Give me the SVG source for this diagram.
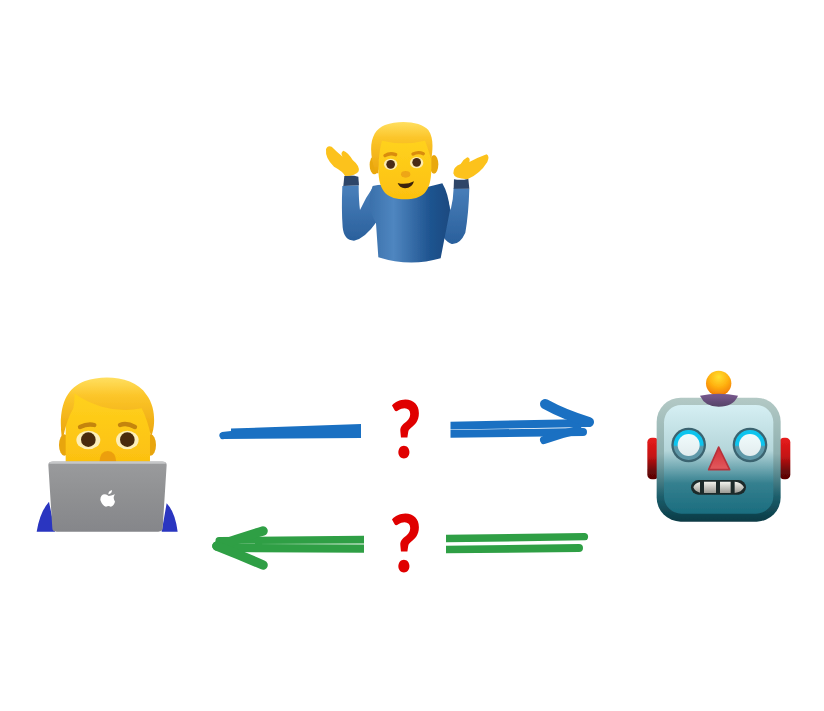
<svg xmlns="http://www.w3.org/2000/svg" width="824" height="711" viewBox="0 0 824 711">
<style>
.q{font-family:"Lato","Open Sans","Liberation Sans",sans-serif;font-weight:900;font-size:80px;fill:#e00000;text-anchor:middle}
.b{fill:#1a70c2}.g{fill:#2f9f45}
.bs{stroke:#1a70c2;fill:none;stroke-linecap:round}.gs{stroke:#2f9f45;fill:none;stroke-linecap:round}
.skin{fill:#fcc21b}.hair{fill:url(#hair)}
</style>
<defs>
<filter id="soft" x="-5%" y="-5%" width="110%" height="110%"><feGaussianBlur stdDeviation="1.5"/></filter>
<linearGradient id="hair" x1="0" y1="0" x2="0" y2="1"><stop offset="0" stop-color="#ffdf60"/><stop offset=".3" stop-color="#fcc62a"/><stop offset="1" stop-color="#eba50c"/></linearGradient>
<linearGradient id="face" x1="0" y1="0" x2="0" y2="1"><stop offset="0" stop-color="#ffd21e"/><stop offset="1" stop-color="#fcc010"/></linearGradient>
<linearGradient id="sweater" x1="0" y1="0" x2="1" y2="0"><stop offset="0" stop-color="#3a70ab"/><stop offset=".3" stop-color="#4f86c0"/><stop offset=".75" stop-color="#1f5490"/><stop offset="1" stop-color="#1a4a80"/></linearGradient>
<linearGradient id="arm" x1="0" y1="0" x2="0" y2="1"><stop offset="0" stop-color="#4a80bb"/><stop offset="1" stop-color="#2a609c"/></linearGradient>
<linearGradient id="lap" x1="0" y1="0" x2="0" y2="1"><stop offset="0" stop-color="#9a9b9d"/><stop offset=".5" stop-color="#8f9092"/><stop offset="1" stop-color="#85868a"/></linearGradient>
<linearGradient id="rOuter" x1="0" y1="0" x2="0" y2="1"><stop offset="0" stop-color="#b3c9c5"/><stop offset=".45" stop-color="#8fb0b0"/><stop offset=".8" stop-color="#1c5e6b"/><stop offset="1" stop-color="#0a3a45"/></linearGradient>
<linearGradient id="rInner" x1="0" y1="0" x2="0" y2="1"><stop offset="0" stop-color="#d5eff3"/><stop offset=".42" stop-color="#b5d6da"/><stop offset=".72" stop-color="#35808f"/><stop offset="1" stop-color="#1b6d7f"/></linearGradient>
<linearGradient id="ear" x1="0" y1="0" x2="0" y2="1"><stop offset="0" stop-color="#e81c1c"/><stop offset=".45" stop-color="#c41414"/><stop offset=".8" stop-color="#6a0808"/><stop offset="1" stop-color="#5a0505"/></linearGradient>
<radialGradient id="orb" cx=".5" cy=".25" r=".8"><stop offset="0" stop-color="#ffe030"/><stop offset=".5" stop-color="#ffb010"/><stop offset="1" stop-color="#f07000"/></radialGradient>
<linearGradient id="cap" x1="0" y1="0" x2="0" y2="1"><stop offset="0" stop-color="#7a5a90"/><stop offset="1" stop-color="#564468"/></linearGradient>
<linearGradient id="eyeRing" x1="0" y1="0" x2="0" y2="1"><stop offset="0" stop-color="#11c4ee"/><stop offset=".5" stop-color="#11c4ee"/><stop offset=".56" stop-color="#5f98a8"/><stop offset="1" stop-color="#5f98a8"/></linearGradient>
<linearGradient id="eyeIn" x1="0" y1="0" x2="0" y2="1"><stop offset="0" stop-color="#f0fbfc"/><stop offset="1" stop-color="#e2ecee"/></linearGradient>
<linearGradient id="tooth" x1="0" y1="0" x2="0" y2="1"><stop offset="0" stop-color="#f4f4ee"/><stop offset="1" stop-color="#9a9a94"/></linearGradient>
<linearGradient id="nose" x1="0" y1="0" x2="0" y2="1"><stop offset="0" stop-color="#d22f36"/><stop offset="1" stop-color="#e25a5e"/></linearGradient>
</defs>

<g id="shrug-man" transform="translate(310 110) scale(.3333)" filter="url(#soft)">
<path fill="url(#arm)" d="M97 228Q94 300 98 352Q102 392 132 392Q165 385 200 335L215 260L190 230Q165 265 150 300Q146 270 146 226Z"/>
<path fill="url(#arm)" d="M478 236Q476 310 466 368Q450 404 425 402Q400 395 380 340L375 270L395 222Q412 260 422 300Q430 270 431 234Z"/>
<path fill="url(#sweater)" d="M188 228Q240 215 290 245Q340 235 397 220Q415 250 420 300L392 445Q300 472 205 442L198 340Q165 280 188 228Z"/>
<path fill="#2d4468" d="M103 198Q125 194 145 200L147 226L100 228Z"/>
<path fill="#2d4468" d="M432 208Q455 212 475 206L478 236L431 236Z"/>
<path class="skin" d="M105 198Q100 185 72 170Q45 145 48 118Q52 105 65 110Q80 125 98 140Q90 128 100 122Q115 128 128 150Q150 168 146 184Q138 198 105 198Z"/>
<path class="skin" d="M472 208Q432 206 430 190Q430 170 452 162Q460 148 472 142Q482 144 478 156Q505 142 530 133Q540 140 532 156Q510 192 472 208Z"/>
<ellipse cx="193" cy="165" rx="14" ry="28" fill="#e9a80f"/><ellipse cx="372" cy="163" rx="13" ry="28" fill="#e9a80f"/>
<path fill="url(#face)" d="M205 90H364V175C364 250 335 268 285 268C235 268 205 250 205 175Z"/>
<path class="hair" d="M197 190C170 110 185 60 225 45C270 28 335 35 355 60C372 85 368 115 364 150Q354 115 345 92Q280 108 216 92Q205 130 205 190Z"/>
<path stroke="#d98c10" stroke-width="10" stroke-linecap="round" fill="none" d="M225 137Q240 127 257 134M309 132Q325 124 340 131"/>
<ellipse cx="242" cy="163" rx="20" ry="17" fill="#fdebb0"/><ellipse cx="320" cy="158" rx="20" ry="17" fill="#fdebb0"/>
<circle cx="242" cy="163" r="13" fill="#4a2c12"/><circle cx="320" cy="157" r="13" fill="#4a2c12"/>
<ellipse cx="287" cy="193" rx="14" ry="10" fill="#eea612"/>
<path fill="#3a2408" d="M263 219Q288 226 312 214Q307 234 285 235Q268 233 263 219Z"/>
</g>

<g id="laptop-man" transform="translate(25 365) scale(.3333)" filter="url(#soft)">
<path fill="#2a35c0" d="M35 500Q45 440 72 410L90 500ZM425 415Q450 440 458 500L410 500Z"/>
<ellipse cx="118" cy="240" rx="16" ry="32" fill="#e8a50e"/><ellipse cx="377" cy="240" rx="16" ry="32" fill="#e8a50e"/>
<path fill="url(#face)" d="M150 75H350L375 130V295H122V130Z"/>
<path class="hair" d="M110 215C100 130 120 70 180 48C240 28 330 35 365 90C395 130 390 190 378 215Q368 165 350 130Q290 142 230 125Q180 110 148 85Q150 105 145 130Q125 165 115 215Z"/>
<path stroke="#c4850e" stroke-width="13" stroke-linecap="round" fill="none" d="M165 186Q188 175 208 180M285 180Q305 172 330 186"/>
<ellipse cx="190" cy="225" rx="36" ry="28" fill="#fdeeb8"/><ellipse cx="307" cy="225" rx="34" ry="28" fill="#fdeeb8"/>
<circle cx="190" cy="224" r="22" fill="#4a2c0e"/><circle cx="307" cy="224" r="22" fill="#4a2c0e"/>
<path fill="#ec9f10" d="M223 292Q225 258 248 258Q272 258 274 292Z"/>
<path fill="url(#lap)" d="M70 300Q70 290 82 290H413Q425 290 425 300L413 490Q413 500 400 500H95Q82 500 82 490Z"/>
<path fill="#c6c7c9" d="M72 296Q75 289 84 289H411Q420 289 423 296Z"/>
<path fill="#fff" d="M251 393Q257 393 270 388Q262 398 270 410Q266 424 257 425Q251 421 243 425Q232 422 226 405Q226 388 240 388Q246 389 251 393ZM250 388Q250 378 261 375Q261 386 250 388Z"/>
</g>

<g id="robot" transform="translate(640 365) scale(.3333)" filter="url(#soft)">
<rect x="22" y="218" width="34" height="125" rx="14" fill="url(#ear)"/>
<rect x="418" y="218" width="33" height="125" rx="14" fill="url(#ear)"/>
<rect x="50" y="98" width="372" height="372" rx="72" fill="url(#rOuter)"/>
<rect x="72" y="120" width="328" height="326" rx="52" fill="url(#rInner)"/>
<circle cx="236" cy="55" r="38" fill="url(#orb)"/>
<path fill="url(#cap)" d="M180 92Q236 80 294 92Q280 125 236 125Q195 125 180 92Z"/>
<circle cx="146" cy="240" r="52" fill="#3a6470"/><circle cx="146" cy="240" r="45" fill="url(#eyeRing)"/><circle cx="146" cy="240" r="33" fill="url(#eyeIn)"/>
<circle cx="330" cy="240" r="52" fill="#3a6470"/><circle cx="330" cy="240" r="45" fill="url(#eyeRing)"/><circle cx="330" cy="240" r="33" fill="url(#eyeIn)"/>
<path fill="url(#nose)" stroke="#b7323a" stroke-width="5" stroke-linejoin="round" d="M236 246L269 314H206Z"/>
<rect x="153" y="345" width="165" height="44" rx="22" fill="#1c2a2c"/>
<path fill="url(#tooth)" d="M180 351V383Q165 380 160 367Q165 354 180 351ZM192 350H228V384H192ZM240 350H272V384H240ZM284 350V384Q305 382 312 367Q305 352 284 350Z"/>
</g>

<g id="connectors">
<path class="b" d="M231 428.500L361 424V438L224 439A3.600 3.600 0 0 1 222 432L231 431Z"/>
<path class="b" d="M450.500 421.700L588 419L594 422.500L588 427L450.500 429.500Z"/>
<path class="b" d="M450.500 430L583 428A4 4 0 0 1 583 436L450.500 437.700Z"/>
<path class="bs" stroke-width="10" d="M545 404Q565 415 589 422"/>
<path class="bs" stroke-width="8" d="M544 440Q560 434 578 430"/>
<path class="g" d="M364 535.700L219 537A3.500 3.500 0 0 0 219 544L364 543.500Z"/>
<path class="g" d="M364 544.500L225 544L213 546L225 552L364 552.700Z"/>
<path class="gs" stroke-width="9.500" d="M263 531Q240 538 217 546"/>
<path class="gs" stroke-width="9.500" d="M263 565Q240 555 217 546"/>
<path class="g" d="M446 534.700L585 533A3.700 3.700 0 0 1 585 540.300L446 542.300Z"/>
<path class="g" d="M446 545.700L579 544A4 4 0 0 1 579 552L446 553.300Z"/>
</g>

<g id="labels">
<text class="q" transform="translate(405.500 458) scale(.85 1)">?</text>
<text class="q" transform="translate(405.500 572) scale(.85 1)">?</text>
</g>
</svg>
